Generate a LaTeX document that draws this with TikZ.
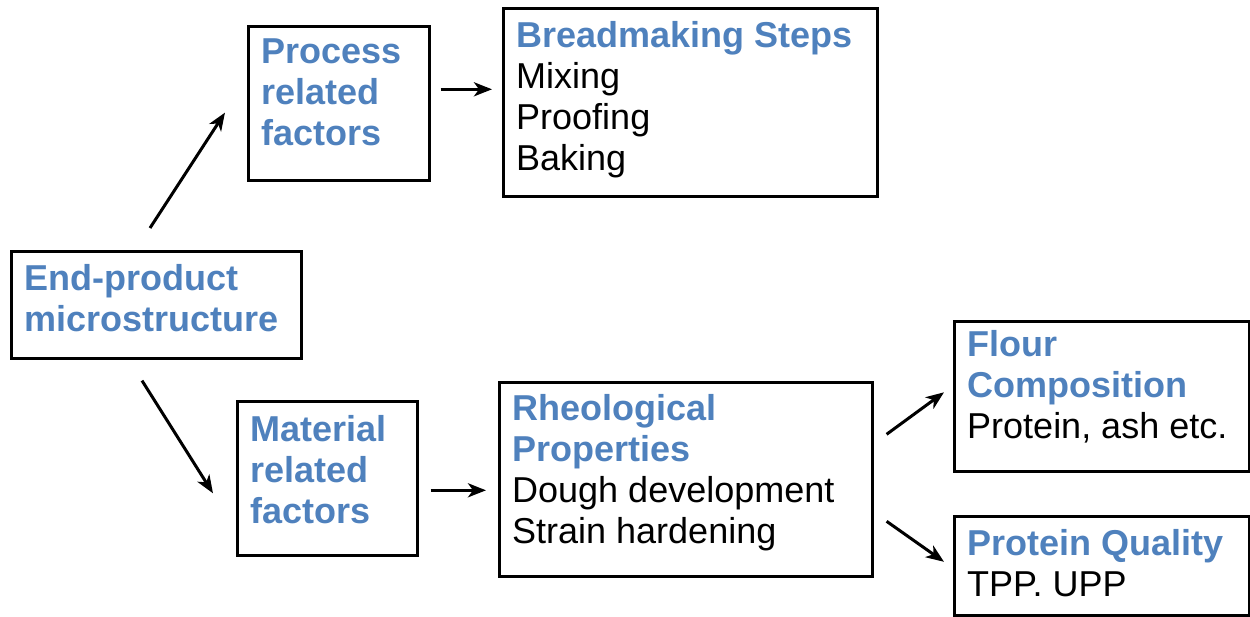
\documentclass[tikz,border=0pt]{standalone}
\usepackage{fontspec}
\setmainfont{Liberation Sans}
\usetikzlibrary{calc,arrows.meta}
\definecolor{hblue}{HTML}{4F81BD}
\tikzset{
  box/.style={draw=black, line width=2.6pt, anchor=north west, inner sep=0pt},
  txt/.style={anchor=base west, align=left, inner sep=0pt, font=\fontsize{36}{41}\selectfont},
  conn/.style={line width=3pt, -{Stealth[length=18pt,width=14pt,inset=5pt]}}
}
\newcommand{\hd}[1]{{\bfseries\color{hblue}#1}}
\begin{document}
\begin{tikzpicture}[x=1pt,y=-1pt]
\useasboundingbox (0,0) rectangle (1250,616);
% boxes
\node[box, minimum width=181pt, minimum height=154pt] (proc) at (247,25) {};
\node[box, minimum width=374pt, minimum height=188pt] (bread) at (502,7) {};
\node[box, minimum width=290pt, minimum height=107pt] (endp) at (10,250) {};
\node[box, minimum width=180pt, minimum height=154pt] (mat) at (236,400) {};
\node[box, minimum width=373pt, minimum height=194pt] (rheo) at (498,381) {};
\node[box, minimum width=295pt, minimum height=150pt] (flour) at (953,320) {};
\node[box, minimum width=295pt, minimum height=99pt] (prot) at (953,515) {};
% texts (anchored at the baseline of the last line)
\node[txt] (proct) at (261,145) {\hd{Process}\\\hd{related}\\\hd{factors}};
\node[txt] (breadt) at (516,170) {\hd{Breadmaking Steps}\\Mixing\\Proofing\\Baking};
\node[txt] (endt) at (24,331) {\hd{End-product}\\\hd{microstructure}};
\node[txt] (matt) at (250,523) {\hd{Material}\\\hd{related}\\\hd{factors}};
\node[txt] (rheot) at (512,543) {\hd{Rheological}\\\hd{Properties}\\Dough development\\Strain hardening};
\node[txt] (flourt) at (967,438) {\hd{Flour}\\\hd{Composition}\\Protein, ash etc.};
\node[txt] (prott) at (967,596) {\hd{Protein Quality}\\TPP. UPP};
% connectors
\draw[conn] ($(endp.north west)+(140,-22)$) -- ($(proc.south west)+(-22,-69)$);
\draw[conn] ($(proc.east)+(10,-14)$) -- ($(bread.west)+(-10,-13)$);
\draw[conn] ($(endp.south west)+(132,21)$) -- ($(mat.west)+(-23,15)$);
\draw[conn] ($(mat.east)+(12,12)$) -- ($(rheo.west)+(-12,11)$);
\draw[conn] ($(rheo.east)+(13,-45)$) -- ($(flour.west)+(-9,-4)$);
\draw[conn] ($(rheo.east)+(13,42)$) -- ($(prot.west)+(-9,-4)$);
\end{tikzpicture}
\end{document}
